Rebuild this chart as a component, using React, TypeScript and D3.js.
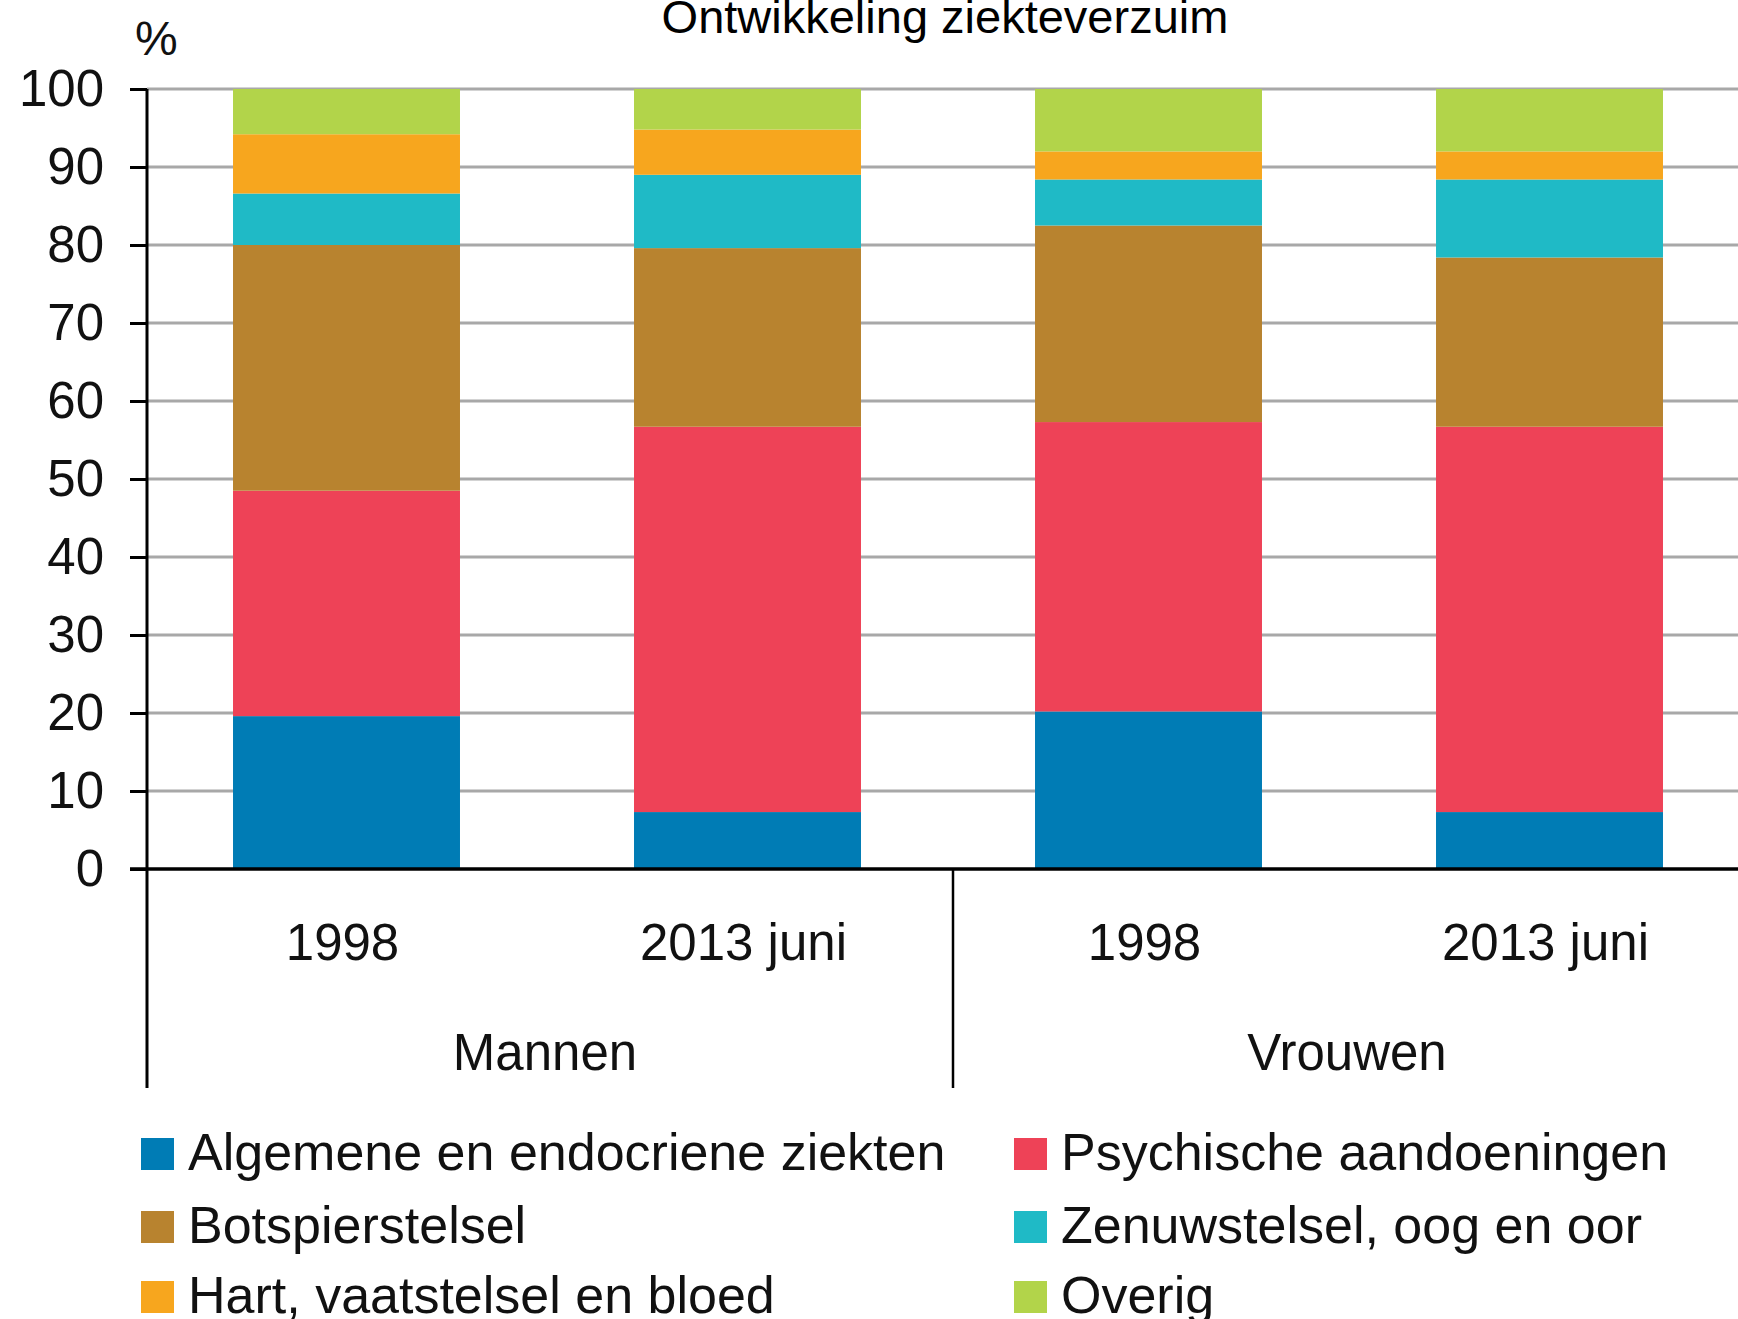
import React, { useEffect, useRef } from "react";
import * as d3 from "d3";

// Ontwikkeling ziekteverzuim: share of sick leave by cause, stacked to 100%

const groups = ["Mannen", "Mannen", "Vrouwen", "Vrouwen"];
const periods = ["1998", "2013 juni", "1998", "2013 juni"];

const seriesNames = [
  "Algemene en endocriene ziekten",
  "Psychische aandoeningen",
  "Botspierstelsel",
  "Zenuwstelsel, oog en oor",
  "Hart, vaatstelsel en bloed",
  "Overig",
];
const seriesColors = ["#007cb5", "#ee4257", "#b8832f", "#1fbac6", "#f7a61e", "#b2d44a"];

const algemene = [19.6, 7.3, 20.2, 7.3];
const psychische = [28.9, 49.4, 37.1, 49.4];
const botspier = [31.5, 22.9, 25.2, 21.7];
const zenuw = [6.6, 9.4, 5.9, 10.0];
const hart = [7.6, 5.8, 3.6, 3.6];
const overig = [5.8, 5.2, 8.0, 8.0];

const yTicks = [0, 10, 20, 30, 40, 50, 60, 70, 80, 90, 100];

const FONT = "Arial, 'Liberation Sans', sans-serif";

const App = () => {
  const svgRef = useRef<SVGSVGElement>(null);

  useEffect(() => {
    document.body.style.margin = "0";
    const width = 1738;
    const height = 1319;

    const values = [algemene, psychische, botspier, zenuw, hart, overig];
    const rows = groups.map((g, i) => {
      const r: any = { key: `${g}|${periods[i]}`, group: g, period: periods[i] };
      seriesNames.forEach((s, j) => (r[s] = values[j][i]));
      return r;
    });

    const svg = d3.select(svgRef.current);
    svg.selectAll("*").remove();

    const x = d3.scaleBand()
      .domain(rows.map(d => d.key))
      .range([146, 1750])
      .paddingInner(0.434)
      .paddingOuter(0.217);

    const y = d3.scaleLinear().domain([0, 100]).range([869, 89]);

    // gridlines
    svg.append("g")
      .selectAll("line")
      .data(yTicks.filter(t => t > 0))
      .join("line")
      .attr("x1", 147)
      .attr("x2", width)
      .attr("y1", d => y(d))
      .attr("y2", d => y(d))
      .attr("stroke", "#a8a8a8")
      .attr("stroke-width", 3);

    // stacked bars
    const stacked = d3.stack<any>().keys(seriesNames)(rows);
    svg.append("g")
      .selectAll("g")
      .data(stacked)
      .join("g")
      .attr("fill", (_, i) => seriesColors[i])
      .selectAll("rect")
      .data(d => d)
      .join("rect")
      .attr("x", d => x(d.data.key)!)
      .attr("y", d => y(d[1]))
      .attr("height", d => y(d[0]) - y(d[1]))
      .attr("width", x.bandwidth());

    // y axis
    const yAxis = svg.append("g")
      .attr("transform", "translate(147,0)")
      .call(d3.axisLeft(y).tickValues(yTicks).tickSize(17).tickPadding(26));
    yAxis.select(".domain").remove();
    yAxis.selectAll(".tick line").attr("stroke", "#000").attr("stroke-width", 3);
    yAxis.selectAll(".tick text")
      .attr("font-family", FONT)
      .attr("font-size", 51)
      .attr("fill", "#111");

    // axis line, baseline and group dividers
    svg.append("line")
      .attr("x1", 147).attr("x2", 147)
      .attr("y1", y(100)).attr("y2", 1088)
      .attr("stroke", "#000").attr("stroke-width", 3);
    svg.append("line")
      .attr("x1", 130).attr("x2", width)
      .attr("y1", y(0)).attr("y2", y(0))
      .attr("stroke", "#000").attr("stroke-width", 3.5);

    const groupNames = Array.from(new Set(groups));
    const groupExtent = (g: string) => {
      const keys = rows.filter(r => r.group === g).map(r => r.key);
      const x0 = x(keys[0])! - x.step() * x.paddingInner() / 2;
      const x1 = x(keys[keys.length - 1])! + x.bandwidth() + x.step() * x.paddingInner() / 2;
      return [x0, x1];
    };
    svg.append("g")
      .selectAll("line")
      .data(groupNames.slice(1))
      .join("line")
      .attr("x1", g => groupExtent(g)[0] + 5)
      .attr("x2", g => groupExtent(g)[0] + 5)
      .attr("y1", y(0))
      .attr("y2", 1088)
      .attr("stroke", "#000")
      .attr("stroke-width", 2.5);

    // category labels
    svg.append("g")
      .selectAll("text")
      .data(rows)
      .join("text")
      .attr("x", d => x(d.key)! + x.bandwidth() / 2 - 4)
      .attr("y", 960)
      .attr("text-anchor", "middle")
      .attr("font-family", FONT)
      .attr("font-size", 51)
      .attr("fill", "#111")
      .text(d => d.period);

    svg.append("g")
      .selectAll("text")
      .data(groupNames)
      .join("text")
      .attr("x", g => (groupExtent(g)[0] + groupExtent(g)[1]) / 2 - 2)
      .attr("y", 1070)
      .attr("text-anchor", "middle")
      .attr("font-family", FONT)
      .attr("font-size", 51)
      .attr("fill", "#111")
      .text(g => g);

    // title and unit
    svg.append("text")
      .attr("x", 945)
      .attr("y", 33)
      .attr("text-anchor", "middle")
      .attr("font-family", FONT)
      .attr("font-size", 47)
      .attr("fill", "#000")
      .text("Ontwikkeling ziekteverzuim");

    svg.append("text")
      .attr("x", 135)
      .attr("y", 55)
      .attr("font-family", FONT)
      .attr("font-size", 48)
      .attr("fill", "#111")
      .text("%");

    // legend
    const legend = svg.append("g")
      .selectAll("g")
      .data(seriesNames)
      .join("g")
      .attr("transform", (_, i) => `translate(${i % 2 === 0 ? 141 : 1014},${[1138, 1211, 1281][Math.floor(i / 2)]})`);
    legend.append("rect")
      .attr("width", 33)
      .attr("height", 32)
      .attr("fill", (_, i) => seriesColors[i]);
    legend.append("text")
      .attr("x", 47)
      .attr("y", 32)
      .attr("font-family", FONT)
      .attr("font-size", 52)
      .attr("fill", "#111")
      .text(d => d);
  }, []);

  return <svg ref={svgRef} width={1738} height={1319} style={{ display: "block" }}></svg>;
};

export default App;
